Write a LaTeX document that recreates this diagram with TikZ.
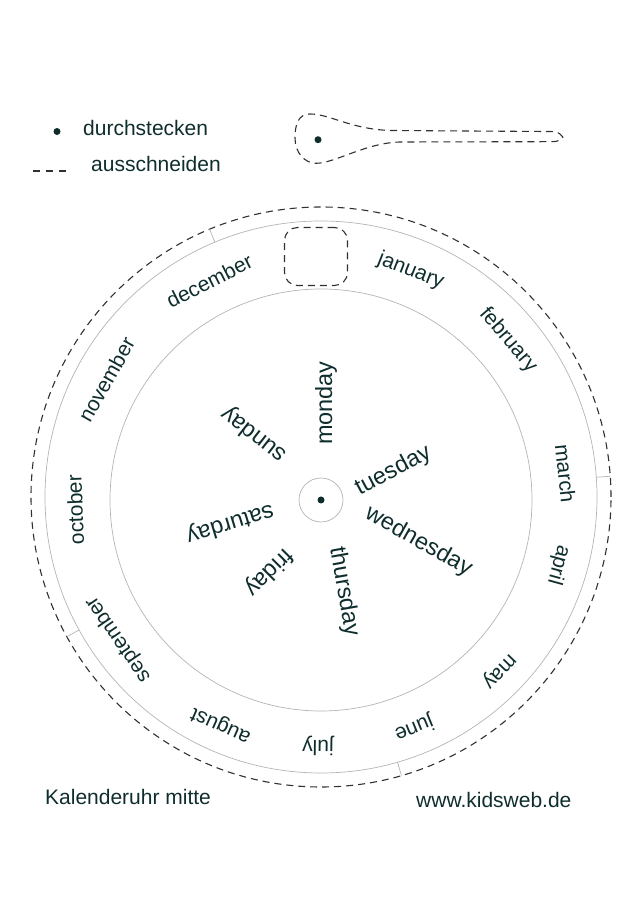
\documentclass[tikz,border=0pt]{standalone}
\usepackage{fontspec}
\setmainfont{Liberation Sans}
\usetikzlibrary{calc}
\definecolor{inkgreen}{RGB}{15, 45, 45}
\definecolor{ringgray}{RGB}{180, 180, 180}
\definecolor{cutgray}{RGB}{45, 50, 50}

\begin{document}
\begin{tikzpicture}[x=1pt, y=1pt,
	ring/.style={ringgray, line width=0.7pt},
	cutline/.style={cutgray, line width=1.1pt, dash pattern=on 7pt off 5pt},
	word/.style={text=inkgreen, inner sep=0pt, font=\fontsize{21}{25}\selectfont},
	dayword/.style={word, font=\fontsize{23.5}{27}\selectfont},
	pin/.style={circle, fill=inkgreen, inner sep=0pt, minimum size=7pt}]
						\useasboundingbox (0,0) rectangle (640,905);
						\coordinate (rim) at (321,408);
						\coordinate (hub) at (321,405);
						\draw[cutline] (rim) circle (290pt);
						\draw[ring] (rim) circle (276pt);
						\draw[ring] (hub) circle (211pt);
						\draw[ring] (hub) circle (22pt);
						\node[pin] (hubpin) at (hub) {};
						\foreach \a in {4.1, 112.6, 208.8, 286.1} {
							\draw[ring] ($(rim)+(\a:276pt)$) -- ($(rim)+(\a:290pt)$);
						}
						\node[draw, cutline, rounded corners=13pt, minimum width=63pt, minimum height=58pt] (slot) at (316,648.5) {};
						\foreach \m/\a in {january/68.6, february/40.5, march/6.2, april/-15.3, may/-43.9, june/-67.8, july/-90.7, august/-114, september/-145.5, october/-177.7, november/-209.3, december/-243} {
							\node[word, rotate=\a-90] (m-\m) at ($(hub)+(\a:246pt)$) {\m};
						}
						\foreach \d/\a/\r/\t in {monday/87/97/90, tuesday/22/78/28, wednesday/-23/106/-29.5, thursday/-76/94.5/-80, friday/-126/89/-135, saturday/-165.6/94/-163, sunday/135.4/94/142} {
							\node[dayword, rotate=\t] (d-\d) at ($(hub)+(\a:\r pt)$) {\d};
						}
						\node[pin] (legendpin) at (57,773.5) {};
						\node[word, anchor=base west] (legendpush) at (83,769) {durchstecken};
						\coordinate (cutstart) at (33,734);
						\coordinate (cutend) at (67,734);
						\draw[cutgray, line width=1.1pt, dash pattern=on 7pt off 6pt] (cutstart) -- (cutend);
						\node[word, anchor=base west] (legendcut) at (91,733.3) {ausschneiden};
						\draw[cutline] (563,767.7) .. controls (558,773.5) .. (545,773.5) -- (390,774.5) .. controls (350,776) and (330,791) .. (310,791) .. controls (298,791) and (295,780) .. (295,767) .. controls (295,752) and (305,741.7) .. (316,741.7) .. controls (335,741.7) and (365,762) .. (400,763) -- (545,763.3) .. controls (558,763.3) .. (563,767.7);
						\node[pin] (pointerpin) at (318,765.3) {};
						\node[word, anchor=base west] (title) at (45,100) {Kalenderuhr mitte};
						\node[word, anchor=base west] (site) at (416,97) {www.kidsweb.de};
					\end{tikzpicture}
\end{document}
